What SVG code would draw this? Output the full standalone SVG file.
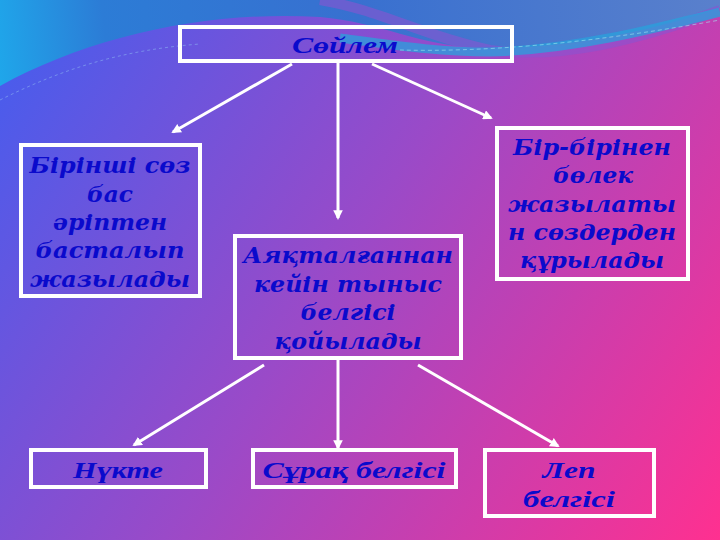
<svg xmlns="http://www.w3.org/2000/svg" width="720" height="540" viewBox="0 0 720 540">
<defs>
<linearGradient id="bg" x1="0" y1="80" x2="720" y2="540" gradientUnits="userSpaceOnUse">
<stop offset="0" stop-color="#4a5cec"/>
<stop offset="0.45" stop-color="#9a4ac8"/>
<stop offset="1" stop-color="#ff3090"/>
</linearGradient>
<linearGradient id="topblue" x1="0" y1="75" x2="720" y2="0" gradientUnits="userSpaceOnUse">
<stop offset="0" stop-color="#1fa6ea"/>
<stop offset="0.15" stop-color="#2c7cd6"/>
<stop offset="0.5" stop-color="#3870d0"/>
<stop offset="1" stop-color="#5a80cc"/>
</linearGradient>
<marker id="ah" viewBox="0 0 10 10" refX="8" refY="5" markerWidth="3.2" markerHeight="3.2" orient="auto" markerUnits="strokeWidth">
<path d="M0,0 L10,5 L0,10 Z" fill="#ffffff"/>
</marker>
<style>
.box{fill:none;stroke:#ffffff;stroke-width:4}
.t{font-family:"Liberation Serif","DejaVu Serif",serif;font-weight:bold;font-style:italic;font-size:24px;fill:#0a0acc;text-anchor:middle}
.w{font-family:"DejaVu Serif","Liberation Serif",serif;font-size:22px}
.c{stroke:#ffffff;stroke-width:3;fill:none;marker-end:url(#ah)}
</style>
</defs>
<rect x="0" y="0" width="720" height="540" fill="url(#bg)"/>
<path d="M0,0 H720 V8 C650,32 560,50 480,48 C420,46 380,22 320,17 C210,10 90,36 0,86 Z" fill="url(#topblue)"/>
<path d="M320,0 C380,10 420,35 490,50 C560,60 640,40 720,10" fill="none" stroke="#8a54d0" stroke-width="10" opacity="0.6"/>
<path d="M340,38 C400,46 440,52 490,52 C570,50 650,30 720,12" fill="none" stroke="#28a2dc" stroke-width="9" opacity="0.75"/>
<path d="M0,100 C60,70 120,50 200,44" fill="none" stroke="#8ab0f0" stroke-width="1" stroke-dasharray="3,3" opacity="0.6"/>
<path d="M400,50 C480,52 580,45 720,20" fill="none" stroke="#a0e8f0" stroke-width="1" stroke-dasharray="4,3" opacity="0.6"/>

<g id="connectors">
<line class="c" x1="292" y1="64" x2="173" y2="132"/>
<line class="c" x1="338" y1="63" x2="338" y2="218"/>
<line class="c" x1="372" y1="64" x2="491" y2="118"/>
<line class="c" x1="264" y1="365" x2="134" y2="445"/>
<line class="c" x1="338" y1="360" x2="338" y2="448"/>
<line class="c" x1="418" y1="365" x2="558" y2="446"/>
</g>

<g id="n-soilem">
<rect class="box" x="180" y="27" width="332" height="34"/>
<text class="t" x="345" y="53" textLength="106" lengthAdjust="spacingAndGlyphs">Сөйлем</text>
</g>
<g id="n-birinshi">
<rect class="box" x="21" y="145" width="179" height="151"/>
<text class="t w" x="110" y="173" textLength="161" lengthAdjust="spacingAndGlyphs">Бірінші сөз</text>
<text class="t w" x="110" y="202" textLength="46" lengthAdjust="spacingAndGlyphs">бас</text>
<text class="t w" x="110" y="230" textLength="114" lengthAdjust="spacingAndGlyphs">әріптен</text>
<text class="t w" x="110" y="258" textLength="149" lengthAdjust="spacingAndGlyphs">басталып</text>
<text class="t w" x="110" y="287" textLength="160" lengthAdjust="spacingAndGlyphs">жазылады</text>
</g>
<g id="n-ayaqtal">
<rect class="box" x="235" y="236" width="226" height="122"/>
<text class="t w" x="348" y="263" textLength="210" lengthAdjust="spacingAndGlyphs">Аяқталғаннан</text>
<text class="t w" x="348" y="292" textLength="188" lengthAdjust="spacingAndGlyphs">кейін тыныс</text>
<text class="t w" x="348" y="320" textLength="95" lengthAdjust="spacingAndGlyphs">белгісі</text>
<text class="t w" x="348" y="349" textLength="147" lengthAdjust="spacingAndGlyphs">қойылады</text>
</g>
<g id="n-birbirinen">
<rect class="box" x="497" y="128" width="191" height="151"/>
<text class="t w" x="592" y="155" textLength="158" lengthAdjust="spacingAndGlyphs">Бір-бірінен</text>
<text class="t w" x="593" y="183" textLength="80" lengthAdjust="spacingAndGlyphs">бөлек</text>
<text class="t w" x="592" y="212" textLength="168" lengthAdjust="spacingAndGlyphs">жазылаты</text>
<text class="t w" x="592" y="240" textLength="168" lengthAdjust="spacingAndGlyphs">н сөздерден</text>
<text class="t w" x="592" y="268" textLength="144" lengthAdjust="spacingAndGlyphs">құрылады</text>
</g>
<g id="n-nukte">
<rect class="box" x="31" y="450" width="175" height="37"/>
<text class="t" x="118" y="478" textLength="90" lengthAdjust="spacingAndGlyphs">Нүкте</text>
</g>
<g id="n-suraq">
<rect class="box" x="253" y="450" width="203" height="37"/>
<text class="t" x="354" y="478" textLength="183" lengthAdjust="spacingAndGlyphs">Сұрақ белгісі</text>
</g>
<g id="n-lep">
<rect class="box" x="485" y="450" width="169" height="66"/>
<text class="t" x="569" y="478" textLength="53" lengthAdjust="spacingAndGlyphs">Леп</text>
<text class="t" x="569" y="507" textLength="92" lengthAdjust="spacingAndGlyphs">белгісі</text>
</g>
</svg>
